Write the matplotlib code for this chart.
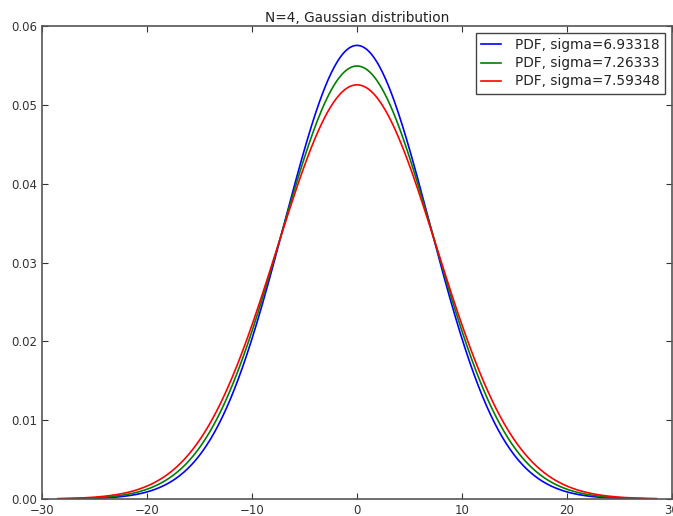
import numpy as np
import matplotlib
matplotlib.use("Agg")
import matplotlib.pyplot as plt

title = "N=4, Gaussian distribution"
sigmas = [6.93318, 7.26333, 7.59348]
colors = ["#0000ff", "#008000", "#ff0000"]
labels = ["PDF, sigma=%.5f" % s for s in sigmas]
x_range = [-28.5, 28.5]

fig = plt.figure(figsize=(6.73, 5.16), dpi=100)
ax = fig.add_axes([42/673, 17/516, 630/673, 473/516])

x = np.linspace(x_range[0], x_range[1], 600)
for s, c, lab in zip(sigmas, colors, labels):
    y = np.exp(-x**2 / (2 * s**2)) / (s * np.sqrt(2 * np.pi))
    ax.plot(x, y, color=c, lw=1.2, label=lab)

ax.set_xlim(-30, 30)
ax.set_ylim(0, 0.06)
ax.set_xticks(np.arange(-30, 31, 10))
ax.set_yticks(np.arange(0, 0.061, 0.01))
ax.set_yticklabels(["%.2f" % v for v in np.arange(0, 0.061, 0.01)])
ax.tick_params(direction="in", top=True, right=True, labelsize=8.5, colors="#333333", length=4)
for sp in ax.spines.values():
    sp.set_color("#555555")
    sp.set_linewidth(1.2)
ax.set_title(title, fontsize=9.8, color="#222222", pad=3)
leg = ax.legend(loc="upper right", fontsize=9.8, fancybox=False, framealpha=1,
                edgecolor="#444444", handlelength=1.5, handletextpad=1.0,
                borderaxespad=0.5, labelspacing=0.3)
for t in leg.get_texts():
    t.set_color("#222222")
fig.savefig("out.png", dpi=100)
